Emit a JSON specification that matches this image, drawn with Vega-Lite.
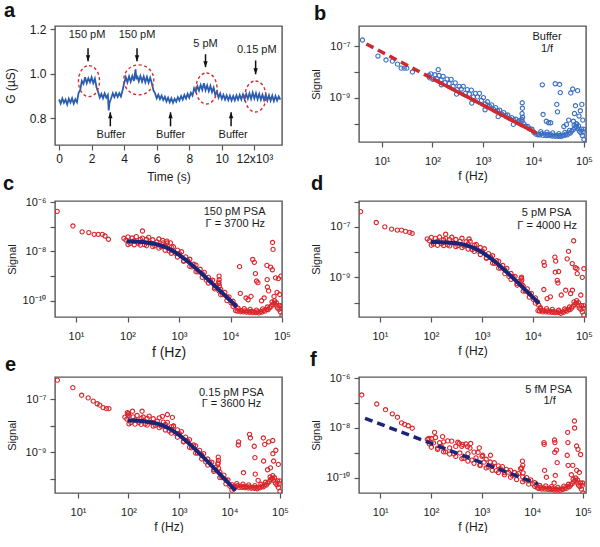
{
"$schema": "https://vega.github.io/schema/vega-lite/v6.json",
"padding": {"left": 2, "top": 0, "right": 0, "bottom": 0},
"config": {
 "font": "Liberation Sans",
 "view": {"stroke": "#555555", "strokeWidth": 1.4},
 "axis": {"domain": false, "grid": false, "tickColor": "#555555", "tickWidth": 1.2, "tickSize": 5, "labelFont": "Liberation Sans", "labelFontSize": 11, "labelColor": "#1a1a1a", "titleFont": "Liberation Sans", "titleFontSize": 12, "titleFontWeight": "normal", "titleColor": "#1a1a1a", "labelFlush": false, "labelOverlap": false},
 "axisY": {"minExtent": 33, "maxExtent": 33, "titlePadding": 5, "labelPadding": 4, "titleFontSize": 11},
 "axisX": {"labelPadding": 8, "titlePadding": 4},
 "title": {"anchor": "start", "frame": "group", "font": "Liberation Sans", "fontSize": 20, "fontWeight": "bold", "color": "#111111", "baseline": "alphabetic", "offset": 2}
},
"datasets": {
 "ts": [{"t":0.0,"g":0.885},{"t":0.1,"g":0.866},{"t":0.2,"g":0.889},{"t":0.3,"g":0.870},{"t":0.4,"g":0.884},{"t":0.5,"g":0.862},{"t":0.6,"g":0.888},{"t":0.7,"g":0.871},{"t":0.8,"g":0.890},{"t":0.9,"g":0.866},{"t":1.0,"g":0.886},{"t":1.1,"g":0.872},{"t":1.2,"g":0.915},{"t":1.3,"g":0.928},{"t":1.4,"g":0.968},{"t":1.5,"g":0.955},{"t":1.6,"g":0.985},{"t":1.7,"g":0.958},{"t":1.8,"g":0.980},{"t":1.9,"g":0.962},{"t":2.0,"g":0.984},{"t":2.1,"g":0.958},{"t":2.2,"g":0.978},{"t":2.3,"g":0.940},{"t":2.4,"g":0.918},{"t":2.5,"g":0.893},{"t":2.6,"g":0.910},{"t":2.7,"g":0.890},{"t":2.8,"g":0.912},{"t":2.9,"g":0.893},{"t":3.0,"g":0.905},{"t":3.05,"g":0.835},{"t":3.1,"g":0.870},{"t":3.2,"g":0.890},{"t":3.3,"g":0.912},{"t":3.4,"g":0.895},{"t":3.5,"g":0.914},{"t":3.6,"g":0.896},{"t":3.7,"g":0.913},{"t":3.8,"g":0.898},{"t":3.9,"g":0.925},{"t":4.0,"g":0.958},{"t":4.1,"g":0.985},{"t":4.2,"g":0.962},{"t":4.3,"g":0.988},{"t":4.4,"g":0.965},{"t":4.5,"g":0.990},{"t":4.6,"g":0.968},{"t":4.7,"g":1.020},{"t":4.75,"g":0.975},{"t":4.8,"g":0.992},{"t":4.9,"g":0.966},{"t":5.0,"g":0.990},{"t":5.1,"g":0.965},{"t":5.2,"g":0.988},{"t":5.3,"g":0.962},{"t":5.4,"g":0.986},{"t":5.5,"g":0.960},{"t":5.6,"g":0.982},{"t":5.7,"g":0.958},{"t":5.8,"g":0.925},{"t":5.9,"g":0.912},{"t":6.0,"g":0.890},{"t":6.1,"g":0.906},{"t":6.2,"g":0.886},{"t":6.3,"g":0.902},{"t":6.4,"g":0.882},{"t":6.5,"g":0.897},{"t":6.6,"g":0.876},{"t":6.7,"g":0.893},{"t":6.8,"g":0.872},{"t":6.9,"g":0.890},{"t":7.0,"g":0.870},{"t":7.1,"g":0.888},{"t":7.2,"g":0.875},{"t":7.3,"g":0.895},{"t":7.4,"g":0.880},{"t":7.5,"g":0.900},{"t":7.6,"g":0.884},{"t":7.7,"g":0.905},{"t":7.8,"g":0.889},{"t":7.9,"g":0.910},{"t":8.0,"g":0.893},{"t":8.1,"g":0.915},{"t":8.2,"g":0.902},{"t":8.3,"g":0.935},{"t":8.4,"g":0.920},{"t":8.5,"g":0.945},{"t":8.6,"g":0.925},{"t":8.7,"g":0.950},{"t":8.8,"g":0.928},{"t":8.9,"g":0.958},{"t":9.0,"g":0.926},{"t":9.1,"g":0.948},{"t":9.2,"g":0.922},{"t":9.3,"g":0.945},{"t":9.4,"g":0.918},{"t":9.5,"g":0.938},{"t":9.6,"g":0.905},{"t":9.7,"g":0.920},{"t":9.8,"g":0.893},{"t":9.9,"g":0.912},{"t":10.0,"g":0.888},{"t":10.1,"g":0.906},{"t":10.2,"g":0.884},{"t":10.3,"g":0.903},{"t":10.4,"g":0.882},{"t":10.5,"g":0.902},{"t":10.6,"g":0.880},{"t":10.7,"g":0.900},{"t":10.8,"g":0.881},{"t":10.9,"g":0.903},{"t":11.0,"g":0.884},{"t":11.1,"g":0.905},{"t":11.2,"g":0.885},{"t":11.3,"g":0.908},{"t":11.4,"g":0.886},{"t":11.5,"g":0.910},{"t":11.6,"g":0.888},{"t":11.7,"g":0.912},{"t":11.8,"g":0.887},{"t":11.9,"g":0.915},{"t":12.0,"g":0.889},{"t":12.1,"g":0.913},{"t":12.2,"g":0.886},{"t":12.3,"g":0.910},{"t":12.4,"g":0.884},{"t":12.5,"g":0.906},{"t":12.6,"g":0.882},{"t":12.7,"g":0.905},{"t":12.8,"g":0.880},{"t":12.9,"g":0.903},{"t":13.0,"g":0.879},{"t":13.1,"g":0.902},{"t":13.2,"g":0.878},{"t":13.3,"g":0.900},{"t":13.4,"g":0.880},{"t":13.5,"g":0.898},{"t":13.6,"g":0.884}],
 "ell": [{"t":1.84,"g":0.967},{"t":9.06,"g":0.934},{"t":12.07,"g":0.898}],
 "circ": [{"t":4.9,"g":0.973}],
 "arr": [{"t":1.78,"g":1.115,"g2":1.056,"dir":"down"},{"t":4.79,"g":1.115,"g2":1.056,"dir":"down"},{"t":9.0,"g":1.088,"g2":1.03,"dir":"down"},{"t":12.08,"g":1.06,"g2":0.998,"dir":"down"},{"t":3.15,"g":0.764,"g2":0.827,"dir":"up"},{"t":6.85,"g":0.764,"g2":0.827,"dir":"up"},{"t":10.57,"g":0.764,"g2":0.827,"dir":"up"}],
 "atxt": [{"t":1.72,"g":1.173,"label":"150 pM"},{"t":4.79,"g":1.173,"label":"150 pM"},{"t":9.0,"g":1.133,"label":"5 pM"},{"t":12.15,"g":1.105,"label":"0.15 pM"},{"t":3.2,"g":0.724,"label":"Buffer"},{"t":6.86,"g":0.724,"label":"Buffer"},{"t":10.7,"g":0.724,"label":"Buffer"}],
 "pb": [{"f":4.1,"s":1.7e-7},{"f":8.3,"s":4.1e-8},{"f":12,"s":2.9e-8},{"f":16,"s":2.6e-8},{"f":20.3,"s":2.0e-8},{"f":24,"s":1.4e-8},{"f":27.5,"s":1.4e-8},{"f":31,"s":1.4e-8},{"f":40,"s":1.0e-8},
  {"f":85,"s":7.3e-9},{"f":93,"s":8.4e-9},{"f":102,"s":5.2e-9},{"f":112,"s":7.8e-9},{"f":123,"s":5.4e-9},{"f":135,"s":7.3e-9},{"f":148,"s":4.9e-9},{"f":162,"s":6.8e-9},{"f":178,"s":3.9e-9},{"f":195,"s":5.3e-9},{"f":214,"s":3.6e-9},{"f":234,"s":5.2e-9},{"f":257,"s":2.8e-9},{"f":282,"s":3.8e-9},{"f":309,"s":2.1e-9},{"f":339,"s":2.8e-9},{"f":372,"s":2.2e-9},{"f":407,"s":2.8e-9},{"f":447,"s":1.5e-9},{"f":490,"s":2.1e-9},{"f":537,"s":1.4e-9},{"f":589,"s":2.0e-9},{"f":646,"s":1.09e-9},{"f":708,"s":1.5e-9},{"f":776,"s":1.09e-9},{"f":851,"s":1.5e-9},{"f":933,"s":8.0e-10},{"f":1020,"s":1.03e-9},{"f":1120,"s":5.9e-10},{"f":1230,"s":7.1e-10},{"f":1350,"s":4.7e-10},{"f":1480,"s":5.4e-10},{"f":1620,"s":3.6e-10},{"f":1780,"s":4.2e-10},{"f":1950,"s":3.2e-10},{"f":2140,"s":3.4e-10},{"f":2340,"s":2.4e-10},{"f":2570,"s":2.7e-10},{"f":2820,"s":2.1e-10},{"f":3090,"s":2.2e-10},{"f":3390,"s":1.6e-10},{"f":3720,"s":1.75e-10},{"f":4070,"s":1.4e-10},{"f":4470,"s":1.5e-10},{"f":4900,"s":1.2e-10},{"f":5370,"s":1.35e-10},{"f":5890,"s":1.5e-10},{"f":6460,"s":1.0e-10},{"f":7080,"s":8.1e-11},{"f":7760,"s":7.9e-11},{"f":8510,"s":6.4e-11},{"f":9330,"s":6.2e-11},{"f":10200,"s":4.7e-11},{"f":11200,"s":4.0e-11},{"f":12300,"s":3.8e-11},
  {"f":130,"s":1.23e-8},{"f":88,"s":5.9e-9},{"f":150,"s":3.2e-9},{"f":300,"s":1.4e-9},{"f":600,"s":6.3e-10},{"f":1100,"s":3.5e-10},{"f":2000,"s":1.9e-10},{"f":4000,"s":9.5e-11},
  {"f":5950,"s":2.5e-10},{"f":6000,"s":6.5e-10},{"f":6050,"s":4.0e-10},{"f":6100,"s":1.8e-10},{"f":5980,"s":1.26e-10},
  {"f":12600,"s":4.0e-11},{"f":13500,"s":3.8e-11},{"f":14500,"s":4.2e-11},{"f":15500,"s":3.6e-11},{"f":16600,"s":4.0e-11},{"f":17800,"s":3.55e-11},{"f":19100,"s":3.9e-11},{"f":20400,"s":3.5e-11},{"f":21900,"s":3.8e-11},{"f":23400,"s":3.4e-11},{"f":25100,"s":3.7e-11},{"f":26900,"s":3.3e-11},{"f":28800,"s":3.6e-11},{"f":30900,"s":3.3e-11},{"f":33100,"s":3.55e-11},{"f":35500,"s":3.2e-11},{"f":38000,"s":3.6e-11},{"f":40700,"s":3.5e-11},{"f":43700,"s":4.0e-11},{"f":46800,"s":3.8e-11},{"f":50100,"s":4.5e-11},{"f":53700,"s":4.4e-11},{"f":57500,"s":5.2e-11},{"f":61700,"s":6.0e-11},{"f":66100,"s":7.1e-11},{"f":70800,"s":7.9e-11},{"f":75900,"s":6.6e-11},{"f":81300,"s":5.2e-11},{"f":87100,"s":4.5e-11},{"f":93300,"s":3.55e-11},{"f":100000,"s":2.5e-11},{"f":14000,"s":5.0e-11},{"f":18500,"s":4.8e-11},{"f":24000,"s":4.5e-11},{"f":32000,"s":4.2e-11},{"f":42000,"s":4.7e-11},{"f":52000,"s":5.6e-11},{"f":64000,"s":8.9e-11},{"f":72000,"s":1.0e-10},{"f":78000,"s":8.3e-11},{"f":90000,"s":6.3e-11},{"f":97000,"s":5.0e-11},{"f":99000,"s":6.3e-11},
  {"f":15000,"s":3.2e-9},{"f":15500,"s":2.3e-10},{"f":27000,"s":3.5e-9},{"f":29000,"s":5.6e-10},{"f":30000,"s":2.9e-10},{"f":33000,"s":3.3e-9},{"f":34000,"s":1.6e-9},{"f":22000,"s":1.1e-10},{"f":18000,"s":1.26e-10},{"f":45000,"s":9.3e-11},{"f":55000,"s":1.55e-9},{"f":60000,"s":2.2e-9},{"f":65000,"s":2.5e-10},{"f":75000,"s":1.9e-9},{"f":80000,"s":2.0e-10},{"f":91000,"s":5.6e-10},{"f":95000,"s":1.4e-10},{"f":50000,"s":1.4e-10},{"f":70000,"s":1.0e-10},{"f":85000,"s":3.2e-10},{"f":20000,"s":1.1e-10},{"f":68000,"s":5.0e-10},{"f":40000,"s":7.9e-11},{"f":62000,"s":1.26e-10}],
 "bdash": [{"f":4.9,"s":1.2e-7},{"f":11500,"s":4.4e-11}],
 "bsolid": [{"f":100,"s":5.5e-9},{"f":11500,"s":4.4e-11}],
 "tb": [{"f":18600,"s":2.3e-7,"label":"Buffer"},{"f":18600,"s":7.8e-8,"label":"1/f"}],
 "pc": [{"f":4.3,"s":4.2e-7},{"f":8.7,"s":1.07e-7},{"f":13.1,"s":6.2e-8},{"f":17.7,"s":5.8e-8},{"f":22.5,"s":4.9e-8},{"f":27,"s":4.9e-8},{"f":32.4,"s":4.9e-8},{"f":36.5,"s":4.2e-8},{"f":42.6,"s":3.1e-8},
  {"f":85,"s":3.40e-8},{"f":93,"s":2.88e-8},{"f":102,"s":3.87e-8},{"f":112,"s":2.12e-8},{"f":123,"s":3.49e-8},{"f":135,"s":2.69e-8},{"f":148,"s":3.94e-8},{"f":162,"s":2.14e-8},{"f":178,"s":3.05e-8},{"f":195,"s":3.46e-8},{"f":214,"s":1.87e-8},{"f":234,"s":3.03e-8},{"f":257,"s":3.72e-8},{"f":282,"s":2.18e-8},{"f":309,"s":2.97e-8},{"f":339,"s":1.68e-8},{"f":372,"s":2.43e-8},{"f":407,"s":3.18e-8},{"f":447,"s":1.54e-8},{"f":490,"s":2.22e-8},{"f":537,"s":1.80e-8},{"f":589,"s":2.18e-8},{"f":646,"s":1.02e-8},{"f":708,"s":1.50e-8},{"f":776,"s":1.54e-8},{"f":851,"s":8.26e-9},{"f":933,"s":1.13e-8},{"f":1020,"s":8.04e-9},{"f":1120,"s":9.66e-9},{"f":1230,"s":4.20e-9},{"f":1350,"s":6.00e-9},{"f":1480,"s":4.27e-9},{"f":1620,"s":4.80e-9},{"f":1780,"s":2.35e-9},{"f":1950,"s":3.01e-9},{"f":2140,"s":2.79e-9},{"f":2340,"s":1.48e-9},{"f":2570,"s":1.89e-9},{"f":2820,"s":1.26e-9},{"f":3090,"s":1.42e-9},{"f":3390,"s":6.85e-10},{"f":3720,"s":8.87e-10},{"f":4070,"s":6.61e-10},{"f":4470,"s":6.79e-10},{"f":4900,"s":3.49e-10},{"f":5370,"s":4.31e-10},{"f":5890,"s":5.69e-10},{"f":6460,"s":2.86e-10},{"f":7080,"s":1.77e-10},{"f":7760,"s":2.17e-10},{"f":8510,"s":1.44e-10},{"f":9330,"s":1.44e-10},{"f":10200,"s":8.30e-11},{"f":11200,"s":9.53e-11},{"f":12300,"s":6.59e-11},
  {"f":102,"s":1.90e-8},{"f":135,"s":1.86e-8},{"f":178,"s":1.80e-8},{"f":234,"s":1.70e-8},{"f":309,"s":1.56e-8},{"f":407,"s":1.36e-8},{"f":537,"s":1.11e-8},{"f":708,"s":8.41e-9},{"f":933,"s":5.93e-9},{"f":1230,"s":3.92e-9},{"f":1620,"s":2.46e-9},{"f":2140,"s":1.50e-9},{"f":2820,"s":8.91e-10},{"f":3720,"s":5.22e-10},{"f":4900,"s":3.04e-10},{"f":6460,"s":1.76e-10},{"f":8510,"s":1.02e-10},{"f":11200,"s":5.87e-11},
  {"f":195,"s":6.7e-8},{"f":480,"s":2.8e-8},{"f":580,"s":2.6e-8},{"f":680,"s":2.2e-8},
  {"f":5950,"s":5.0e-10},{"f":6000,"s":1.0e-9},{"f":6030,"s":7.1e-10},{"f":6080,"s":4.0e-10},{"f":5980,"s":2.5e-10},
  {"f":12600,"s":4.0e-11},{"f":13500,"s":3.8e-11},{"f":14500,"s":4.2e-11},{"f":15500,"s":3.6e-11},{"f":16600,"s":4.0e-11},{"f":17800,"s":3.55e-11},{"f":19100,"s":3.9e-11},{"f":20400,"s":3.5e-11},{"f":21900,"s":3.8e-11},{"f":23400,"s":3.4e-11},{"f":25100,"s":3.7e-11},{"f":26900,"s":3.3e-11},{"f":28800,"s":3.6e-11},{"f":30900,"s":3.3e-11},{"f":33100,"s":3.55e-11},{"f":35500,"s":3.2e-11},{"f":38000,"s":3.6e-11},{"f":40700,"s":3.5e-11},{"f":43700,"s":4.0e-11},{"f":46800,"s":3.8e-11},{"f":50100,"s":4.5e-11},{"f":53700,"s":4.4e-11},{"f":57500,"s":5.2e-11},{"f":61700,"s":6.0e-11},{"f":66100,"s":7.1e-11},{"f":70800,"s":7.9e-11},{"f":75900,"s":6.6e-11},{"f":81300,"s":5.2e-11},{"f":87100,"s":4.5e-11},{"f":93300,"s":3.55e-11},{"f":100000,"s":2.5e-11},{"f":14000,"s":5.0e-11},{"f":18500,"s":4.8e-11},{"f":24000,"s":4.5e-11},{"f":32000,"s":4.2e-11},{"f":42000,"s":4.7e-11},{"f":52000,"s":5.6e-11},{"f":64000,"s":8.9e-11},{"f":72000,"s":1.0e-10},{"f":78000,"s":8.3e-11},{"f":90000,"s":6.3e-11},{"f":97000,"s":5.0e-11},{"f":99000,"s":6.3e-11},
  {"f":15000,"s":2.4e-9},{"f":15500,"s":2.0e-10},{"f":20000,"s":1.3e-10},{"f":22000,"s":1.1e-10},{"f":27000,"s":4.7e-9},{"f":29000,"s":3.6e-9},{"f":30500,"s":1.26e-9},{"f":32000,"s":6.3e-10},{"f":34000,"s":5.4e-10},{"f":25000,"s":1.5e-10},{"f":40000,"s":1.0e-10},{"f":51000,"s":2.7e-9},{"f":51500,"s":7.2e-10},{"f":52000,"s":3.6e-10},{"f":55000,"s":2.5e-10},{"f":60000,"s":2.3e-9},{"f":65000,"s":1.8e-9},{"f":65500,"s":2.3e-8},{"f":67000,"s":1.2e-8},{"f":75000,"s":8.5e-10},{"f":85000,"s":7.9e-10},{"f":90000,"s":1.8e-10},{"f":95000,"s":1.0e-9},{"f":70000,"s":1.5e-10},{"f":80000,"s":2.2e-10},{"f":45000,"s":1.3e-10}],
 "fc": [{"f":95.5,"s":2.57e-8},{"f":126,"s":2.52e-8},{"f":158,"s":2.47e-8},{"f":200,"s":2.38e-8},{"f":251,"s":2.25e-8},{"f":316,"s":2.08e-8},{"f":398,"s":1.86e-8},{"f":501,"s":1.58e-8},{"f":631,"s":1.29e-8},{"f":794,"s":9.89e-9},{"f":1000,"s":7.24e-9},{"f":1259,"s":5.09e-9},{"f":1585,"s":3.46e-9},{"f":1995,"s":2.29e-9},{"f":2512,"s":1.49e-9},{"f":3162,"s":9.64e-10},{"f":3981,"s":6.17e-10},{"f":5012,"s":3.92e-10},{"f":6310,"s":2.49e-10},{"f":7943,"s":1.57e-10},{"f":10000,"s":9.96e-11},{"f":13183,"s":5.74e-11}],
 "tc": [{"f":12000,"s":3.9e-7,"label":"150 pM PSA"},{"f":12400,"s":1.26e-7,"label":"Γ = 3700 Hz"}],
 "pd": [{"f":4.2,"s":4.0e-7},{"f":8.5,"s":1.48e-7},{"f":12.5,"s":1.0e-7},{"f":17,"s":8.1e-8},{"f":22,"s":7.4e-8},{"f":26.6,"s":7.4e-8},{"f":31.8,"s":6.6e-8},{"f":38.6,"s":6.0e-8},{"f":43,"s":5.5e-8},
  {"f":85,"s":3.35e-8},{"f":93,"s":2.84e-8},{"f":102,"s":3.83e-8},{"f":112,"s":2.09e-8},{"f":123,"s":3.47e-8},{"f":135,"s":2.68e-8},{"f":148,"s":3.94e-8},{"f":162,"s":2.15e-8},{"f":178,"s":3.08e-8},{"f":195,"s":3.51e-8},{"f":214,"s":1.91e-8},{"f":234,"s":3.12e-8},{"f":257,"s":3.86e-8},{"f":282,"s":2.28e-8},{"f":309,"s":3.15e-8},{"f":339,"s":1.81e-8},{"f":372,"s":2.65e-8},{"f":407,"s":3.54e-8},{"f":447,"s":1.74e-8},{"f":490,"s":2.57e-8},{"f":537,"s":2.12e-8},{"f":589,"s":2.63e-8},{"f":646,"s":1.26e-8},{"f":708,"s":1.89e-8},{"f":776,"s":1.99e-8},{"f":851,"s":1.09e-8},{"f":933,"s":1.52e-8},{"f":1020,"s":1.11e-8},{"f":1120,"s":1.36e-8},{"f":1230,"s":6.01e-9},{"f":1350,"s":8.73e-9},{"f":1480,"s":6.31e-9},{"f":1620,"s":7.19e-9},{"f":1780,"s":3.56e-9},{"f":1950,"s":4.60e-9},{"f":2140,"s":4.31e-9},{"f":2340,"s":2.31e-9},{"f":2570,"s":2.95e-9},{"f":2820,"s":1.98e-9},{"f":3090,"s":2.25e-9},{"f":3390,"s":1.09e-9},{"f":3720,"s":1.42e-9},{"f":4070,"s":1.06e-9},{"f":4470,"s":1.09e-9},{"f":4900,"s":5.61e-10},{"f":5370,"s":6.92e-10},{"f":5890,"s":9.16e-10},{"f":6460,"s":4.60e-10},{"f":7080,"s":2.85e-10},{"f":7760,"s":3.51e-10},{"f":8510,"s":2.32e-10},{"f":9330,"s":2.33e-10},{"f":10200,"s":1.34e-10},{"f":11200,"s":1.54e-10},{"f":12300,"s":1.07e-10},
  {"f":102,"s":1.87e-8},{"f":135,"s":1.85e-8},{"f":178,"s":1.82e-8},{"f":234,"s":1.75e-8},{"f":309,"s":1.66e-8},{"f":407,"s":1.51e-8},{"f":537,"s":1.31e-8},{"f":708,"s":1.06e-8},{"f":933,"s":8.0e-9},{"f":1230,"s":5.61e-9},{"f":1620,"s":3.69e-9},{"f":2140,"s":2.31e-9},{"f":2820,"s":1.40e-9},{"f":3720,"s":8.34e-10},{"f":4900,"s":4.89e-10},{"f":6460,"s":2.84e-10},{"f":8510,"s":1.64e-10},{"f":11200,"s":9.5e-11},{"f":13000,"s":7.9e-11},{"f":14000,"s":6.3e-11},
  {"f":195,"s":5.1e-8},{"f":560,"s":3.3e-8},
  {"f":5950,"s":7.1e-10},{"f":6000,"s":1.02e-9},{"f":6040,"s":7.9e-10},{"f":6080,"s":5.0e-10},
  {"f":12600,"s":4.8e-11},{"f":13500,"s":4.6e-11},{"f":14500,"s":5.0e-11},{"f":15500,"s":4.3e-11},{"f":16600,"s":4.8e-11},{"f":17800,"s":4.3e-11},{"f":19100,"s":4.7e-11},{"f":20400,"s":4.2e-11},{"f":21900,"s":4.6e-11},{"f":23400,"s":4.1e-11},{"f":25100,"s":4.4e-11},{"f":26900,"s":4.0e-11},{"f":28800,"s":4.3e-11},{"f":30900,"s":4.0e-11},{"f":33100,"s":4.3e-11},{"f":35500,"s":3.8e-11},{"f":38000,"s":4.3e-11},{"f":40700,"s":4.2e-11},{"f":43700,"s":4.8e-11},{"f":46800,"s":4.6e-11},{"f":50100,"s":5.4e-11},{"f":53700,"s":5.3e-11},{"f":57500,"s":6.2e-11},{"f":61700,"s":7.2e-11},{"f":66100,"s":8.5e-11},{"f":70800,"s":9.5e-11},{"f":75900,"s":7.9e-11},{"f":81300,"s":6.2e-11},{"f":87100,"s":5.4e-11},{"f":93300,"s":4.3e-11},{"f":100000,"s":3.2e-11},{"f":14000,"s":6.0e-11},{"f":18500,"s":5.8e-11},{"f":24000,"s":5.4e-11},{"f":32000,"s":5.0e-11},{"f":42000,"s":5.6e-11},{"f":52000,"s":6.7e-11},{"f":64000,"s":1.07e-10},{"f":72000,"s":1.2e-10},{"f":78000,"s":1.0e-10},{"f":90000,"s":7.6e-11},{"f":97000,"s":6.0e-11},{"f":99000,"s":7.6e-11},
  {"f":16400,"s":3.3e-10},{"f":16400,"s":4.0e-9},{"f":16800,"s":3.0e-9},{"f":19000,"s":1.45e-10},{"f":22000,"s":1.7e-10},{"f":27000,"s":6.3e-9},{"f":28000,"s":4.4e-9},{"f":27500,"s":1.6e-9},{"f":32000,"s":1.7e-9},{"f":30000,"s":7.6e-10},{"f":31000,"s":6.0e-10},{"f":36000,"s":2.0e-10},{"f":44000,"s":3.1e-10},{"f":47000,"s":5.4e-9},{"f":50000,"s":1.07e-8},{"f":59000,"s":3.5e-9},{"f":63000,"s":2.8e-8},{"f":68000,"s":2.4e-9},{"f":73000,"s":2.2e-9},{"f":74000,"s":1.4e-9},{"f":93000,"s":1.0e-9},{"f":87000,"s":2.0e-10},{"f":100000,"s":2.2e-9},{"f":59500,"s":3.1e-10},{"f":55000,"s":2.3e-10}],
 "fd": [{"f":100,"s":2.53e-8},{"f":126,"s":2.51e-8},{"f":158,"s":2.47e-8},{"f":200,"s":2.42e-8},{"f":251,"s":2.34e-8},{"f":316,"s":2.22e-8},{"f":398,"s":2.06e-8},{"f":501,"s":1.84e-8},{"f":631,"s":1.57e-8},{"f":794,"s":1.29e-8},{"f":1000,"s":9.94e-9},{"f":1259,"s":7.31e-9},{"f":1585,"s":5.16e-9},{"f":1995,"s":3.52e-9},{"f":2512,"s":2.34e-9},{"f":3162,"s":1.53e-9},{"f":3981,"s":9.84e-10},{"f":5012,"s":6.30e-10},{"f":6310,"s":4.01e-10},{"f":7943,"s":2.55e-10},{"f":10000,"s":1.61e-10},{"f":13183,"s":9.29e-11}],
 "td": [{"f":18600,"s":3.5e-7,"label":"5 pM PSA"},{"f":19000,"s":1.1e-7,"label":"Γ = 4000 Hz"}],
 "pe": [{"f":3.9,"s":5.4e-7},{"f":7.9,"s":2.8e-7},{"f":11.8,"s":1.45e-7},{"f":15.9,"s":1.15e-7},{"f":20,"s":8.7e-8},{"f":24,"s":6.9e-8},{"f":27,"s":6.1e-8},{"f":31.5,"s":4.9e-8},{"f":36.5,"s":4.5e-8},{"f":41,"s":4.5e-8},
  {"f":85,"s":2.15e-8},{"f":93,"s":1.82e-8},{"f":102,"s":2.44e-8},{"f":112,"s":1.34e-8},{"f":123,"s":2.20e-8},{"f":135,"s":1.70e-8},{"f":148,"s":2.49e-8},{"f":162,"s":1.35e-8},{"f":178,"s":1.93e-8},{"f":195,"s":2.18e-8},{"f":214,"s":1.18e-8},{"f":234,"s":1.91e-8},{"f":257,"s":2.34e-8},{"f":282,"s":1.37e-8},{"f":309,"s":1.87e-8},{"f":339,"s":1.06e-8},{"f":372,"s":1.53e-8},{"f":407,"s":2.01e-8},{"f":447,"s":9.70e-9},{"f":490,"s":1.40e-8},{"f":537,"s":1.14e-8},{"f":589,"s":1.37e-8},{"f":646,"s":6.43e-9},{"f":708,"s":9.44e-9},{"f":776,"s":9.70e-9},{"f":851,"s":5.21e-9},{"f":933,"s":7.13e-9},{"f":1020,"s":5.07e-9},{"f":1120,"s":6.10e-9},{"f":1230,"s":2.65e-9},{"f":1350,"s":3.78e-9},{"f":1480,"s":2.69e-9},{"f":1620,"s":3.03e-9},{"f":1780,"s":1.48e-9},{"f":1950,"s":1.90e-9},{"f":2140,"s":1.76e-9},{"f":2340,"s":9.35e-10},{"f":2570,"s":1.19e-9},{"f":2820,"s":7.94e-10},{"f":3090,"s":8.97e-10},{"f":3390,"s":4.33e-10},{"f":3720,"s":5.60e-10},{"f":4070,"s":4.17e-10},{"f":4470,"s":4.29e-10},{"f":4900,"s":2.20e-10},{"f":5370,"s":2.72e-10},{"f":5890,"s":3.59e-10},{"f":6460,"s":1.80e-10},{"f":7080,"s":1.11e-10},{"f":7760,"s":1.37e-10},{"f":8510,"s":9.08e-11},{"f":9330,"s":9.08e-11},{"f":10200,"s":5.24e-11},{"f":11200,"s":6.01e-11},{"f":12300,"s":4.16e-11},
  {"f":102,"s":1.20e-8},{"f":135,"s":1.17e-8},{"f":178,"s":1.14e-8},{"f":234,"s":1.07e-8},{"f":309,"s":9.84e-9},{"f":407,"s":8.57e-9},{"f":537,"s":7.0e-9},{"f":708,"s":5.31e-9},{"f":933,"s":3.74e-9},{"f":1230,"s":2.47e-9},{"f":1620,"s":1.55e-9},{"f":2140,"s":9.44e-10},{"f":2820,"s":5.62e-10},{"f":3720,"s":3.30e-10},{"f":4900,"s":1.92e-10},{"f":6460,"s":1.11e-10},{"f":8510,"s":6.43e-11},{"f":11200,"s":3.71e-11},
  {"f":95,"s":3.2e-8},{"f":97,"s":2.6e-8},{"f":100,"s":3.0e-8},{"f":120,"s":3.6e-8},{"f":186,"s":3.6e-8},{"f":470,"s":2.3e-8},{"f":590,"s":2.7e-8},{"f":740,"s":2.1e-8},{"f":780,"s":1.0e-8},
  {"f":5950,"s":4.0e-10},{"f":6000,"s":6.6e-10},{"f":6050,"s":5.0e-10},{"f":6100,"s":2.5e-10},
  {"f":12600,"s":5.3e-11},{"f":13500,"s":5.0e-11},{"f":14500,"s":5.5e-11},{"f":15500,"s":4.75e-11},{"f":16600,"s":5.3e-11},{"f":17800,"s":4.7e-11},{"f":19100,"s":5.1e-11},{"f":20400,"s":4.6e-11},{"f":21900,"s":5.0e-11},{"f":23400,"s":4.5e-11},{"f":25100,"s":4.9e-11},{"f":26900,"s":4.4e-11},{"f":28800,"s":4.75e-11},{"f":30900,"s":4.4e-11},{"f":33100,"s":4.7e-11},{"f":35500,"s":4.2e-11},{"f":38000,"s":4.75e-11},{"f":40700,"s":4.6e-11},{"f":43700,"s":5.3e-11},{"f":46800,"s":5.0e-11},{"f":50100,"s":5.9e-11},{"f":53700,"s":5.8e-11},{"f":57500,"s":6.9e-11},{"f":61700,"s":7.9e-11},{"f":66100,"s":9.4e-11},{"f":70800,"s":1.04e-10},{"f":75900,"s":8.7e-11},{"f":81300,"s":6.9e-11},{"f":87100,"s":5.9e-11},{"f":93300,"s":4.7e-11},{"f":100000,"s":3.3e-11},{"f":14000,"s":6.6e-11},{"f":18500,"s":6.3e-11},{"f":24000,"s":5.9e-11},{"f":32000,"s":5.5e-11},{"f":42000,"s":6.2e-11},{"f":52000,"s":7.4e-11},{"f":64000,"s":1.17e-10},{"f":72000,"s":1.32e-10},{"f":78000,"s":1.1e-10},{"f":90000,"s":8.3e-11},{"f":97000,"s":6.6e-11},{"f":99000,"s":8.3e-11},
  {"f":15000,"s":1.9e-9},{"f":15200,"s":2.5e-9},{"f":19000,"s":1.7e-10},{"f":25000,"s":4.8e-9},{"f":26000,"s":3.5e-9},{"f":31000,"s":1.7e-9},{"f":32000,"s":6.3e-10},{"f":32500,"s":1.5e-10},{"f":47000,"s":3.5e-9},{"f":47500,"s":4.7e-10},{"f":50000,"s":2.0e-9},{"f":60000,"s":2.5e-9},{"f":72000,"s":2.8e-9},{"f":72500,"s":8.9e-10},{"f":75000,"s":4.7e-10},{"f":83000,"s":1.2e-9},{"f":93000,"s":3.5e-10},{"f":65000,"s":2.6e-10},{"f":57000,"s":2.2e-10},{"f":37000,"s":8.7e-11}],
 "fe": [{"f":95.5,"s":1.62e-8},{"f":126,"s":1.59e-8},{"f":158,"s":1.56e-8},{"f":200,"s":1.50e-8},{"f":251,"s":1.42e-8},{"f":316,"s":1.32e-8},{"f":398,"s":1.17e-8},{"f":501,"s":1.00e-8},{"f":631,"s":8.11e-9},{"f":794,"s":6.24e-9},{"f":1000,"s":4.57e-9},{"f":1259,"s":3.21e-9},{"f":1585,"s":2.18e-9},{"f":1995,"s":1.45e-9},{"f":2512,"s":9.42e-10},{"f":3162,"s":6.08e-10},{"f":3981,"s":3.89e-10},{"f":5012,"s":2.47e-10},{"f":6310,"s":1.57e-10},{"f":7943,"s":9.93e-11},{"f":10000,"s":6.28e-11},{"f":13183,"s":3.62e-11}],
 "te": [{"f":11000,"s":1.8e-7,"label":"0.15 pM PSA"},{"f":11000,"s":6.5e-8,"label":"Γ = 3600 Hz"}],
 "pf": [{"f":4.3,"s":2.1e-7},{"f":8.5,"s":9.1e-8},{"f":12.7,"s":5.4e-8},{"f":17.3,"s":3.7e-8},{"f":21.8,"s":2.7e-8},{"f":26.3,"s":1.6e-8},{"f":30.3,"s":1.4e-8},{"f":35.6,"s":1.23e-8},{"f":42.7,"s":9.8e-9},
  {"f":85,"s":3.49e-9},{"f":93,"s":2.30e-9},{"f":102,"s":3.81e-9},{"f":112,"s":2.52e-9},{"f":123,"s":4.17e-9},{"f":135,"s":1.55e-9},{"f":148,"s":2.56e-9},{"f":162,"s":1.77e-9},{"f":178,"s":2.80e-9},{"f":195,"s":1.11e-9},{"f":214,"s":3.05e-9},{"f":234,"s":1.60e-9},{"f":257,"s":2.98e-9},{"f":282,"s":9.18e-10},{"f":309,"s":1.83e-9},{"f":339,"s":2.70e-9},{"f":372,"s":1.00e-9},{"f":407,"s":1.86e-9},{"f":447,"s":6.15e-10},{"f":490,"s":2.28e-9},{"f":537,"s":9.48e-10},{"f":589,"s":1.57e-9},{"f":646,"s":5.20e-10},{"f":708,"s":1.08e-9},{"f":776,"s":6.37e-10},{"f":851,"s":1.05e-9},{"f":933,"s":3.33e-10},{"f":1020,"s":7.28e-10},{"f":1120,"s":4.28e-10},{"f":1230,"s":5.62e-10},{"f":1350,"s":2.75e-10},{"f":1480,"s":4.35e-10},{"f":1620,"s":3.01e-10},{"f":1780,"s":4.05e-10},{"f":1950,"s":1.98e-10},{"f":2140,"s":3.05e-10},{"f":2340,"s":2.37e-10},{"f":2570,"s":2.84e-10},{"f":2820,"s":1.63e-10},{"f":3090,"s":2.20e-10},{"f":3390,"s":1.70e-10},{"f":3720,"s":2.00e-10},{"f":4070,"s":1.26e-10},{"f":4470,"s":1.66e-10},{"f":4900,"s":1.31e-10},{"f":5370,"s":1.50e-10},{"f":5890,"s":2.38e-10},{"f":6460,"s":1.11e-10},{"f":7080,"s":8.22e-11},{"f":7760,"s":1.03e-10},{"f":8510,"s":7.64e-11},{"f":9330,"s":8.36e-11},{"f":10200,"s":5.78e-11},{"f":11200,"s":6.47e-11},{"f":12300,"s":4.79e-11},
  {"f":102,"s":1.70e-9},{"f":135,"s":1.38e-9},{"f":178,"s":1.11e-9},{"f":234,"s":9.0e-10},{"f":309,"s":7.28e-10},{"f":407,"s":5.89e-10},{"f":537,"s":4.75e-10},{"f":708,"s":3.85e-10},{"f":933,"s":3.10e-10},{"f":1230,"s":2.51e-10},{"f":1620,"s":2.03e-10},{"f":2140,"s":1.64e-10},{"f":2820,"s":1.33e-10},{"f":3720,"s":1.07e-10},{"f":4900,"s":8.67e-11},{"f":6460,"s":7.02e-11},{"f":8510,"s":5.66e-11},{"f":11200,"s":4.58e-11},
  {"f":91,"s":3.8e-9},{"f":118,"s":6.7e-9},{"f":360,"s":2.4e-9},{"f":420,"s":2.2e-9},{"f":525,"s":1.8e-9},{"f":610,"s":2.4e-9},{"f":900,"s":1.6e-9},{"f":1050,"s":8.1e-10},{"f":1500,"s":8.1e-10},{"f":170,"s":4.5e-9},
  {"f":6200,"s":2.5e-10},{"f":6400,"s":4.7e-10},{"f":6500,"s":3.2e-10},{"f":6600,"s":1.6e-10},
  {"f":12600,"s":4.0e-11},{"f":13500,"s":3.8e-11},{"f":14500,"s":4.2e-11},{"f":15500,"s":3.6e-11},{"f":16600,"s":4.0e-11},{"f":17800,"s":3.55e-11},{"f":19100,"s":3.9e-11},{"f":20400,"s":3.5e-11},{"f":21900,"s":3.8e-11},{"f":23400,"s":3.4e-11},{"f":25100,"s":3.7e-11},{"f":26900,"s":3.3e-11},{"f":28800,"s":3.6e-11},{"f":30900,"s":3.3e-11},{"f":33100,"s":3.55e-11},{"f":35500,"s":3.2e-11},{"f":38000,"s":3.6e-11},{"f":40700,"s":3.5e-11},{"f":43700,"s":4.0e-11},{"f":46800,"s":3.8e-11},{"f":50100,"s":4.5e-11},{"f":53700,"s":4.4e-11},{"f":57500,"s":5.2e-11},{"f":61700,"s":6.0e-11},{"f":66100,"s":7.1e-11},{"f":70800,"s":7.9e-11},{"f":75900,"s":6.6e-11},{"f":81300,"s":5.2e-11},{"f":87100,"s":4.5e-11},{"f":93300,"s":3.55e-11},{"f":100000,"s":2.5e-11},{"f":14000,"s":5.0e-11},{"f":18500,"s":4.8e-11},{"f":24000,"s":4.5e-11},{"f":32000,"s":4.2e-11},{"f":42000,"s":4.7e-11},{"f":52000,"s":5.6e-11},{"f":64000,"s":8.9e-11},{"f":72000,"s":1.0e-10},{"f":78000,"s":8.3e-11},{"f":90000,"s":6.3e-11},{"f":97000,"s":5.0e-11},{"f":99000,"s":6.3e-11},
  {"f":17000,"s":2.6e-9},{"f":17200,"s":2.2e-9},{"f":17500,"s":2.0e-10},{"f":19000,"s":1.07e-10},{"f":27500,"s":3.3e-9},{"f":28000,"s":2.6e-9},{"f":27800,"s":1.05e-9},{"f":30000,"s":1.3e-9},{"f":31000,"s":4.1e-10},{"f":28500,"s":1.26e-10},{"f":27000,"s":6.3e-11},{"f":50000,"s":6.7e-9},{"f":50500,"s":2.6e-9},{"f":49000,"s":8.1e-10},{"f":51000,"s":3.2e-10},{"f":68000,"s":1.9e-8},{"f":68500,"s":1.0e-8},{"f":75000,"s":1.9e-9},{"f":80000,"s":1.4e-9},{"f":90000,"s":8.7e-10},{"f":63000,"s":3.2e-10},{"f":59000,"s":1.35e-10},{"f":75500,"s":2.0e-10},{"f":85000,"s":1.66e-10}],
 "ff": [{"f":5.0,"s":2.45e-8},{"f":12900,"s":5.75e-11}],
 "tf": [{"f":21000,"s":3.3e-7,"label":"5 fM PSA"},{"f":22000,"s":1.25e-7,"label":"1/f"}]
},
"columns": 2,
"spacing": {"row": -11, "column": 17},
"concat": [
 {
  "width": 227, "height": 119,
  "title": {"text": "a", "dx": -51},
  "encoding": {
   "x": {"field": "t", "type": "quantitative", "title": "Time (s)", "scale": {"domain": [-0.25, 13.7], "nice": false, "zero": false}, "axis": {"values": [0,2,4,6,8,10,12], "labelExpr": "datum.value == 12 ? '12x10³' : datum.label", "labelPadding": 3, "titlePadding": 7, "labelFontSize": 12}},
   "y": {"field": "g", "type": "quantitative", "title": "G (µS)", "scale": {"domain": [0.68, 1.215], "nice": false, "zero": false}, "axis": {"values": [0.8, 1.0, 1.2], "format": ".1f", "labelFontSize": 12, "titleFontSize": 12}}
  },
  "layer": [
   {"data": {"name": "ts"}, "mark": {"type": "line", "color": "#2a5db0", "strokeWidth": 1.8}},
   {"data": {"name": "ell"}, "mark": {"type": "point", "shape": "M0,-1C0.376,-1 0.68,-0.552 0.68,0C0.68,0.552 0.376,1 0,1C-0.376,1 -0.68,0.552 -0.68,0C-0.68,-0.552 -0.376,-1 0,-1Z", "filled": false, "size": 961, "color": "#d03030", "strokeWidth": 1.4, "strokeDash": [3, 2.5], "opacity": 1}},
   {"data": {"name": "circ"}, "mark": {"type": "point", "shape": "M0,-1C0.552,-1 1,-0.552 1,0C1,0.552 0.552,1 0,1C-0.552,1 -1,0.552 -1,0C-1,-0.552 -0.552,-1 0,-1Z", "filled": false, "size": 900, "color": "#d03030", "strokeWidth": 1.4, "strokeDash": [3, 2.5], "opacity": 1}},
   {"data": {"name": "arr"}, "mark": {"type": "rule", "color": "#111111", "strokeWidth": 1.5}, "encoding": {"y2": {"field": "g2"}}},
   {"data": {"name": "arr"}, "mark": {"type": "point", "filled": true, "size": 64, "color": "#111111", "opacity": 1}, "encoding": {"y": {"field": "g2", "type": "quantitative", "title": "G (µS)"}, "shape": {"field": "dir", "type": "nominal", "scale": {"domain": ["down", "up"], "range": ["M0,0L-0.55,-1.5L0.55,-1.5Z", "M0,0L-0.55,1.5L0.55,1.5Z"]}, "legend": null}}},
   {"data": {"name": "atxt"}, "mark": {"type": "text", "fontSize": 11, "color": "#1a1a1a", "baseline": "middle"}, "encoding": {"text": {"field": "label"}}}
  ]
 },
 {
  "width": 227, "height": 116,
  "title": {"text": "b", "dx": -45},
  "encoding": {
   "x": {"field": "f", "type": "quantitative", "title": "f (Hz)", "scale": {"type": "log", "domain": [3.5, 110000], "nice": false}, "axis": {"values": [10,100,1000,10000,100000], "labelExpr": "'10' + substring('⁰¹²³⁴⁵⁶⁷⁸⁹', round(log(datum.value)/LN10), round(log(datum.value)/LN10) + 1)"}},
   "y": {"field": "s", "type": "quantitative", "title": "Signal", "scale": {"type": "log", "domain": [2e-11, 5.9e-7], "nice": false}, "axis": {"values": [1e-10,1e-9,1e-8,1e-7], "labelExpr": "round(log(datum.value)/LN10) % 2 == 0 ? '' : '10⁻' + (round(log(datum.value)/LN10) <= -10 ? '¹' : '') + substring('⁰¹²³⁴⁵⁶⁷⁸⁹', abs(round(log(datum.value)/LN10)) % 10, abs(round(log(datum.value)/LN10)) % 10 + 1)"}}
  },
  "layer": [
   {"data": {"name": "pb"}, "mark": {"type": "point", "shape": "circle", "filled": false, "size": 18, "strokeWidth": 1.1, "color": "#3a6ec4", "opacity": 1, "clip": true}},
   {"data": {"name": "bdash"}, "mark": {"type": "line", "color": "#cc2a2e", "strokeWidth": 3.5, "strokeDash": [8, 5]}},
   {"data": {"name": "bsolid"}, "mark": {"type": "line", "color": "#cc2a2e", "strokeWidth": 3.5}},
   {"data": {"name": "tb"}, "mark": {"type": "text", "fontSize": 11, "color": "#1a1a1a", "baseline": "middle"}, "encoding": {"text": {"field": "label"}}}
  ]
 },
 {
  "width": 227, "height": 116,
  "title": {"text": "c", "dx": -52},
  "encoding": {
   "x": {"field": "f", "type": "quantitative", "title": "f (Hz)", "scale": {"type": "log", "domain": [3.9, 100000], "nice": false}, "axis": {"values": [10,100,1000,10000,100000], "titleFontSize": 14, "labelExpr": "'10' + substring('⁰¹²³⁴⁵⁶⁷⁸⁹', round(log(datum.value)/LN10), round(log(datum.value)/LN10) + 1)"}},
   "y": {"field": "s", "type": "quantitative", "title": "Signal", "scale": {"type": "log", "domain": [2.2e-11, 1.1e-6], "nice": false}, "axis": {"values": [1e-10,1e-9,1e-8,1e-7,1e-6], "labelExpr": "round(log(datum.value)/LN10) % 2 != 0 ? '' : '10⁻' + (round(log(datum.value)/LN10) <= -10 ? '¹' : '') + substring('⁰¹²³⁴⁵⁶⁷⁸⁹', abs(round(log(datum.value)/LN10)) % 10, abs(round(log(datum.value)/LN10)) % 10 + 1)"}}
  },
  "layer": [
   {"data": {"name": "pc"}, "mark": {"type": "point", "shape": "circle", "filled": false, "size": 18, "strokeWidth": 1.1, "color": "#d9262b", "opacity": 1, "clip": true}},
   {"data": {"name": "fc"}, "mark": {"type": "line", "color": "#1a2478", "strokeWidth": 4}},
   {"data": {"name": "tc"}, "mark": {"type": "text", "fontSize": 11, "color": "#1a1a1a", "baseline": "middle"}, "encoding": {"text": {"field": "label"}}}
  ]
 },
 {
  "width": 227, "height": 116,
  "title": {"text": "d", "dx": -48},
  "encoding": {
   "x": {"field": "f", "type": "quantitative", "title": "f (Hz)", "scale": {"type": "log", "domain": [3.9, 110000], "nice": false}, "axis": {"values": [10,100,1000,10000,100000], "labelExpr": "'10' + substring('⁰¹²³⁴⁵⁶⁷⁸⁹', round(log(datum.value)/LN10), round(log(datum.value)/LN10) + 1)"}},
   "y": {"field": "s", "type": "quantitative", "title": "Signal", "scale": {"type": "log", "domain": [2.7e-11, 1.05e-6], "nice": false}, "axis": {"values": [1e-10,1e-9,1e-8,1e-7,1e-6], "labelExpr": "round(log(datum.value)/LN10) % 2 == 0 ? '' : '10⁻' + (round(log(datum.value)/LN10) <= -10 ? '¹' : '') + substring('⁰¹²³⁴⁵⁶⁷⁸⁹', abs(round(log(datum.value)/LN10)) % 10, abs(round(log(datum.value)/LN10)) % 10 + 1)"}}
  },
  "layer": [
   {"data": {"name": "pd"}, "mark": {"type": "point", "shape": "circle", "filled": false, "size": 18, "strokeWidth": 1.1, "color": "#d9262b", "opacity": 1, "clip": true}},
   {"data": {"name": "fd"}, "mark": {"type": "line", "color": "#1a2478", "strokeWidth": 4}},
   {"data": {"name": "td"}, "mark": {"type": "text", "fontSize": 11, "color": "#1a1a1a", "baseline": "middle"}, "encoding": {"text": {"field": "label"}}}
  ]
 },
 {
  "width": 227, "height": 116,
  "title": {"text": "e", "dx": -50},
  "encoding": {
   "x": {"field": "f", "type": "quantitative", "title": "f (Hz)", "scale": {"type": "log", "domain": [3.5, 110000], "nice": false}, "axis": {"values": [10,100,1000,10000,100000], "labelExpr": "'10' + substring('⁰¹²³⁴⁵⁶⁷⁸⁹', round(log(datum.value)/LN10), round(log(datum.value)/LN10) + 1)"}},
   "y": {"field": "s", "type": "quantitative", "title": "Signal", "scale": {"type": "log", "domain": [2.9e-11, 7.1e-7], "nice": false}, "axis": {"values": [1e-10,1e-9,1e-8,1e-7], "labelExpr": "round(log(datum.value)/LN10) % 2 == 0 ? '' : '10⁻' + (round(log(datum.value)/LN10) <= -10 ? '¹' : '') + substring('⁰¹²³⁴⁵⁶⁷⁸⁹', abs(round(log(datum.value)/LN10)) % 10, abs(round(log(datum.value)/LN10)) % 10 + 1)"}}
  },
  "layer": [
   {"data": {"name": "pe"}, "mark": {"type": "point", "shape": "circle", "filled": false, "size": 18, "strokeWidth": 1.1, "color": "#d9262b", "opacity": 1, "clip": true}},
   {"data": {"name": "fe"}, "mark": {"type": "line", "color": "#1a2478", "strokeWidth": 4}},
   {"data": {"name": "te"}, "mark": {"type": "text", "fontSize": 11, "color": "#1a1a1a", "baseline": "middle"}, "encoding": {"text": {"field": "label"}}}
  ]
 },
 {
  "width": 227, "height": 116,
  "title": {"text": "f", "dx": -49},
  "encoding": {
   "x": {"field": "f", "type": "quantitative", "title": "f (Hz)", "scale": {"type": "log", "domain": [3.8, 115000], "nice": false}, "axis": {"values": [10,100,1000,10000,100000], "labelExpr": "'10' + substring('⁰¹²³⁴⁵⁶⁷⁸⁹', round(log(datum.value)/LN10), round(log(datum.value)/LN10) + 1)"}},
   "y": {"field": "s", "type": "quantitative", "title": "Signal", "scale": {"type": "log", "domain": [2.5e-11, 1.1e-6], "nice": false}, "axis": {"values": [1e-10,1e-9,1e-8,1e-7,1e-6], "labelExpr": "round(log(datum.value)/LN10) % 2 != 0 ? '' : '10⁻' + (round(log(datum.value)/LN10) <= -10 ? '¹' : '') + substring('⁰¹²³⁴⁵⁶⁷⁸⁹', abs(round(log(datum.value)/LN10)) % 10, abs(round(log(datum.value)/LN10)) % 10 + 1)"}}
  },
  "layer": [
   {"data": {"name": "pf"}, "mark": {"type": "point", "shape": "circle", "filled": false, "size": 18, "strokeWidth": 1.1, "color": "#d9262b", "opacity": 1, "clip": true}},
   {"data": {"name": "ff"}, "mark": {"type": "line", "color": "#1a2478", "strokeWidth": 3.5, "strokeDash": [8, 5]}},
   {"data": {"name": "tf"}, "mark": {"type": "text", "fontSize": 11, "color": "#1a1a1a", "baseline": "middle"}, "encoding": {"text": {"field": "label"}}}
  ]
 }
]
}
